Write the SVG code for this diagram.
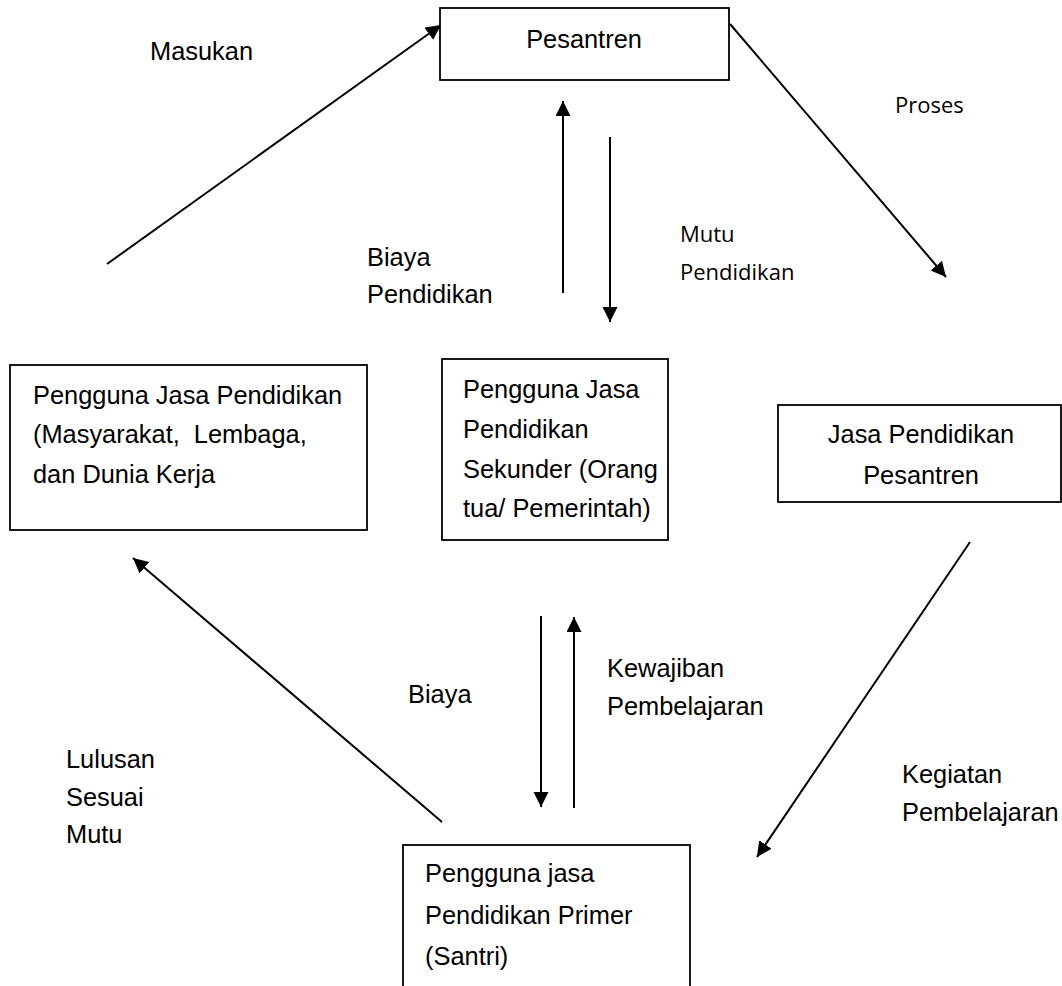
<svg xmlns="http://www.w3.org/2000/svg" width="1062" height="986" viewBox="0 0 1062 986">
  <style>
    .box { fill: #ffffff; stroke: #000000; stroke-width: 1.8; }
    .txt { font-family: "Liberation Sans", Arial, sans-serif; font-size: 25.4px; fill: #000000; white-space: pre; }
    .alt { font-family: "Open Sans", "Noto Sans", sans-serif; font-size: 22px; fill: #000000; }
    .link { stroke: #000000; stroke-width: 2; fill: none; marker-end: url(#arrow); }
  </style>
  <defs>
    <marker id="arrow" markerUnits="userSpaceOnUse" markerWidth="16" markerHeight="16" refX="15" refY="7.5" orient="auto">
      <path d="M0,0 L15,7.5 L0,15 Z" fill="#000000"/>
    </marker>
  </defs>
  <rect width="1062" height="986" fill="#ffffff"/>

  <!-- connectors -->
  <g id="connectors">
    <line class="link" x1="107" y1="264" x2="441" y2="25"/>
    <line class="link" x1="730" y1="24" x2="946" y2="277"/>
    <line class="link" x1="563" y1="293" x2="563" y2="101"/>
    <line class="link" x1="610" y1="137" x2="610" y2="322"/>
    <line class="link" x1="970" y1="542" x2="757" y2="857"/>
    <line class="link" x1="541" y1="616" x2="541" y2="807"/>
    <line class="link" x1="574" y1="808" x2="574" y2="617"/>
    <line class="link" x1="442" y1="822" x2="133" y2="558"/>
  </g>

  <!-- connector labels -->
  <g id="labels">
    <text class="txt" x="150" y="60">Masukan</text>
    <text class="alt" x="895" y="113">Proses</text>
    <text class="txt" x="367" y="266">Biaya</text>
    <text class="txt" x="367" y="303">Pendidikan</text>
    <text class="alt" x="680" y="242">Mutu</text>
    <text class="alt" x="680" y="280">Pendidikan</text>
    <text class="txt" x="408" y="703">Biaya</text>
    <text class="txt" x="607" y="677">Kewajiban</text>
    <text class="txt" x="607" y="715">Pembelajaran</text>
    <text class="txt" x="66" y="768">Lulusan</text>
    <text class="txt" x="66" y="806">Sesuai</text>
    <text class="txt" x="66" y="843">Mutu</text>
    <text class="txt" x="902" y="783">Kegiatan</text>
    <text class="txt" x="902" y="821">Pembelajaran</text>
  </g>

  <g id="pesantren">
    <rect class="box" x="440" y="8" width="289" height="72"/>
    <text class="txt" x="584" y="48" text-anchor="middle">Pesantren</text>
  </g>

  <g id="pengguna-umum">
    <rect class="box" x="10" y="365" width="357" height="165"/>
    <text class="txt" x="33" y="404">Pengguna Jasa Pendidikan</text>
    <text class="txt" x="33" y="443">(Masyarakat,  Lembaga,</text>
    <text class="txt" x="33" y="483">dan Dunia Kerja</text>
  </g>

  <g id="pengguna-sekunder">
    <rect class="box" x="442" y="359" width="226" height="181"/>
    <text class="txt" x="463" y="398">Pengguna Jasa</text>
    <text class="txt" x="463" y="438">Pendidikan</text>
    <text class="txt" x="463" y="478">Sekunder (Orang</text>
    <text class="txt" x="463" y="517">tua/ Pemerintah)</text>
  </g>

  <g id="jasa-pendidikan">
    <rect class="box" x="778" y="405" width="283" height="97"/>
    <text class="txt" x="921" y="443" text-anchor="middle">Jasa Pendidikan</text>
    <text class="txt" x="921" y="484" text-anchor="middle">Pesantren</text>
  </g>

  <g id="pengguna-primer">
    <rect class="box" x="403" y="845" width="287" height="160"/>
    <text class="txt" x="425" y="882">Pengguna jasa</text>
    <text class="txt" x="425" y="924">Pendidikan Primer</text>
    <text class="txt" x="425" y="965">(Santri)</text>
  </g>
</svg>
